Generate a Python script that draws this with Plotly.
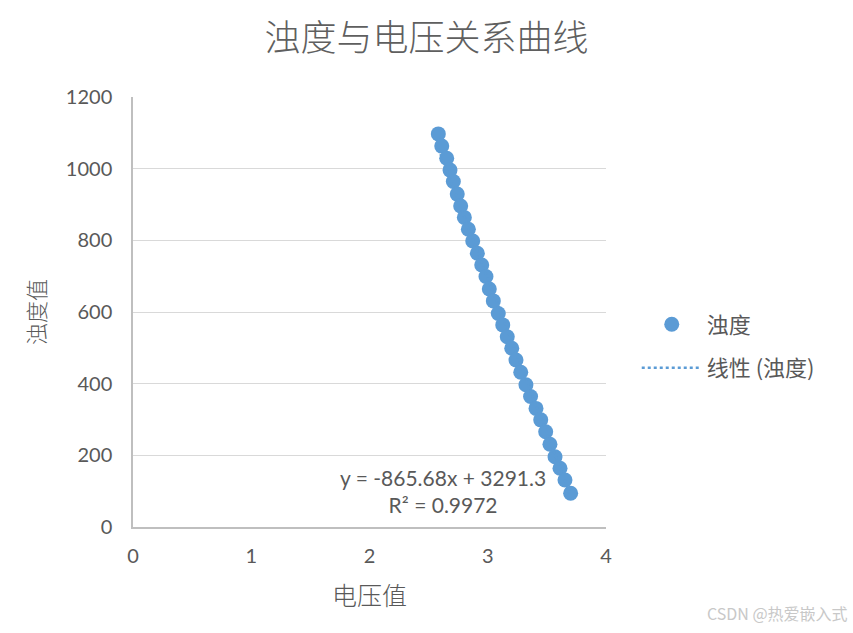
import plotly.graph_objects as go

# Data
voltage = [2.582, 2.611, 2.653, 2.681, 2.709, 2.742, 2.771, 2.802, 2.836, 2.873,
           2.912, 2.949, 2.985, 3.013, 3.047, 3.089, 3.127, 3.165, 3.203, 3.239,
           3.279, 3.323, 3.362, 3.408, 3.448, 3.490, 3.526, 3.569, 3.611, 3.653, 3.701]
turbidity = [1097, 1063, 1029, 996, 964, 929, 896, 864, 831, 798,
             764, 731, 699, 664, 631, 596, 564, 531, 499, 466,
             432, 397, 364, 331, 299, 266, 231, 196, 164, 131, 94]
slope = -865.68
intercept = 3291.3
r2 = 0.9972
x_ticks = [0, 1, 2, 3, 4]
y_ticks = [0, 200, 400, 600, 800, 1000, 1200]

trend_x = [min(voltage), max(voltage)]
trend_y = [slope * v + intercept for v in trend_x]

blue = "#5B9BD5"
txt = "#595959"
cjk = "Noto Sans CJK SC"
num = "Lato, Open Sans, sans-serif"

fig = go.Figure()
fig.add_trace(go.Scatter(
    x=voltage, y=turbidity, mode="markers", name="浊度", legendgroup="a",
    marker=dict(color=blue, size=15, line=dict(width=0)),
))
fig.add_trace(go.Scatter(
    x=trend_x, y=trend_y, mode="lines", name="线性 (浊度)", legendgroup="b",
    line=dict(color=blue, width=2.5, dash="dot"),
))

fig.update_layout(
    width=853, height=633,
    margin=dict(l=133, r=247, t=97, b=106),
    paper_bgcolor="white", plot_bgcolor="white",
    title=dict(text="浊度与电压关系曲线", x=0.5, xref="container", xanchor="center",
               y=1 - 38 / 633, yref="container", yanchor="middle",
               font=dict(family=cjk, size=36, color="#5f5f5f", weight=300)),
    xaxis=dict(range=[0, 4], tickvals=x_ticks, showgrid=False, zeroline=False,
               showline=True, linecolor="#bfbfbf", linewidth=1.5, ticks="",
               ticklabelstandoff=10,
               tickfont=dict(family=num, size=20, color=txt),
               title=dict(text="电压值", font=dict(family=cjk, size=25, color=txt, weight=300), standoff=22)),
    yaxis=dict(range=[0, 1200], tickvals=y_ticks, showgrid=True, gridcolor="#d9d9d9",
               gridwidth=1.2, zeroline=False, showline=True, linecolor="#bfbfbf",
               linewidth=1.5, ticks="", ticklabelstandoff=15,
               tickfont=dict(family=num, size=20, color=txt),
               title=dict(text="浊度值", font=dict(family=cjk, size=22, color=txt, weight=300), standoff=14)),
    legend=dict(x=1.065, y=0.42, xanchor="left", yanchor="middle",
                font=dict(family=cjk, size=22, color=txt), tracegroupgap=12,
                bgcolor="rgba(0,0,0,0)", itemwidth=60),
    showlegend=True,
)

fig.add_annotation(x=2.62, y=100, xref="x", yref="y",
                   text=f"y = {slope}x + {intercept}<br>R² = {r2}",
                   showarrow=False, align="center",
                   font=dict(family=num, size=21, color=txt))
fig.add_annotation(x=1.0, y=0.0, xref="paper", yref="paper", xanchor="right", yanchor="bottom",
                   text="CSDN @热爱嵌入式", showarrow=False, xshift=244, yshift=-100,
                   font=dict(family=cjk, size=16, color="#c8c8c8"))

fig.write_html("out.html", config={"displayModeBar": False},
               post_script="document.body.style.margin='0';document.body.style.overflow='hidden';")
